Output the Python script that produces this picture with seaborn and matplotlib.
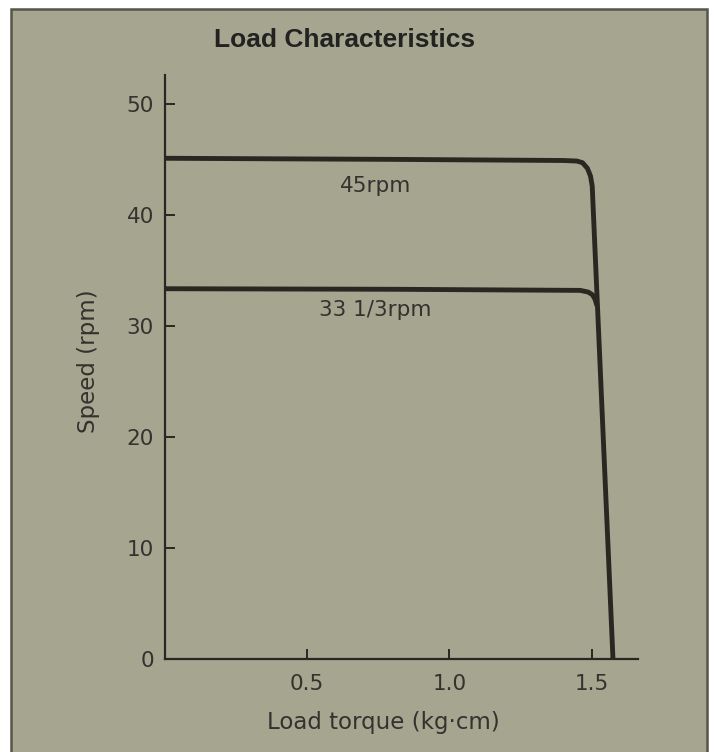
"""
Load Characteristics - speed vs load torque for the two turntable speeds
"""

import matplotlib
matplotlib.use("Agg")
import matplotlib.pyplot as plt
import matplotlib.patches as mpatches
import pandas as pd
import seaborn as sns

# data
torque_45 = [0.0, 0.80, 1.40, 1.448, 1.468, 1.485, 1.496, 1.502, 1.575]
speed_45 = [45.1, 45.0, 44.9, 44.85, 44.7, 44.2, 43.5, 42.6, 0.0]
torque_33 = [0.0, 0.80, 1.46, 1.488, 1.503, 1.512, 1.519]
speed_33 = [33.35, 33.3, 33.2, 33.05, 32.8, 32.4, 31.8]

curve_labels = ["45rpm", "33 1/3rpm"]
label_pos_x = [0.74, 0.74]
label_pos_y = [42.6, 31.4]

x_ticks = [0.5, 1.0, 1.5]
x_ticklabels = ["0.5", "1.0", "1.5"]
y_ticks = [0, 10, 20, 30, 40, 50]

BG = "#a6a590"
INK = "#2a2723"
TXT = "#33322f"

sns.set_theme(style="ticks")
plt.rcParams["font.family"] = ["DejaVu Sans"]

fig = plt.figure(figsize=(7.16, 7.52), dpi=100, facecolor="white")

# grey printed panel with a dark frame (behind the axes)
panel = mpatches.Rectangle((11 / 716, -0.01), (707 - 11) / 716, 1 - 9 / 752 + 0.01,
                           transform=fig.transFigure, facecolor=BG,
                           edgecolor="#55554a", linewidth=1.8, zorder=-5)
fig.patches.append(panel)

ax = fig.add_axes([165 / 716, 93 / 752, 473 / 716, 584 / 752])
ax.set_facecolor("none")
ax.set_zorder(1)

df45 = pd.DataFrame({"torque": torque_45, "speed": speed_45})
df33 = pd.DataFrame({"torque": torque_33, "speed": speed_33})
sns.lineplot(data=df45, x="torque", y="speed", sort=False, ax=ax,
             color=INK, linewidth=3.5, solid_capstyle="butt", solid_joinstyle="round")
sns.lineplot(data=df33, x="torque", y="speed", sort=False, ax=ax,
             color=INK, linewidth=3.5, solid_capstyle="butt", solid_joinstyle="round")

for lab, lx, ly in zip(curve_labels, label_pos_x, label_pos_y):
    ax.text(lx, ly, lab, ha="center", va="center", fontsize=15.5, color=TXT)

ax.set_xlim(0, 1.663)
ax.set_ylim(0, 52.6)
ax.set_xticks(x_ticks)
ax.set_xticklabels(x_ticklabels)
ax.set_yticks(y_ticks)

for side in ["top", "right"]:
    ax.spines[side].set_visible(False)
for side in ["left", "bottom"]:
    ax.spines[side].set_color(INK)
    ax.spines[side].set_linewidth(1.6)

ax.tick_params(axis="both", direction="in", length=7, width=1.4, color=INK,
               labelsize=15.5, labelcolor=TXT)
ax.tick_params(axis="x", pad=11)
ax.tick_params(axis="y", pad=8)

ax.set_xlabel("Load torque (kg·cm)", fontsize=16.5, color=TXT)
ax.set_ylabel("Speed (rpm)", fontsize=16.5, color=TXT)
ax.xaxis.set_label_coords(0.461, -0.089)
ax.yaxis.set_label_coords(-0.138, 0.51)

fig.text(345 / 716, 1 - 40 / 752, "Load Characteristics", ha="center", va="center",
         fontsize=19, fontweight="bold", color="#222220",
         family=["Liberation Sans Narrow", "Liberation Sans", "DejaVu Sans"])

plt.savefig("out.png", dpi=100, facecolor=fig.get_facecolor())
plt.close()
